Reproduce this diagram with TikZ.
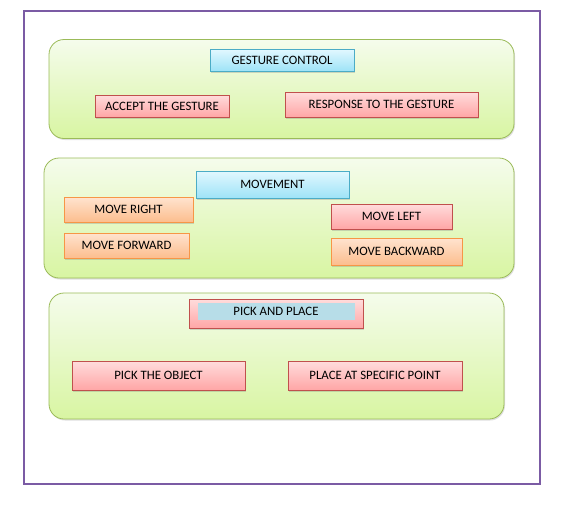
\documentclass[tikz,border=0pt]{standalone}
\usepackage{fontspec}
\setmainfont{Carlito}
\usetikzlibrary{shadows}
\definecolor{frame}{HTML}{7B5BA4}
\definecolor{grpline}{HTML}{9BBB59}
\definecolor{grptop}{HTML}{F5FCEC}
\definecolor{grpbot}{HTML}{D8F5A2}
\definecolor{redline}{HTML}{C0504D}
\definecolor{redtop}{HTML}{FFDCDC}
\definecolor{redbot}{HTML}{FFA6A6}
\definecolor{orline}{HTML}{F79646}
\definecolor{ortop}{HTML}{FFE3CF}
\definecolor{orbot}{HTML}{FCBE8E}
\definecolor{cyline}{HTML}{4BACC6}
\definecolor{cytop}{HTML}{E2F8FF}
\definecolor{cybot}{HTML}{9EE3F7}
\definecolor{innerblue}{HTML}{B7DDE8}
\tikzset{
  grp/.style={draw=grpline, line width=0.8pt, rounded corners=15pt, top color=grptop, bottom color=grpbot,
    drop shadow={shadow xshift=1pt, shadow yshift=-1.5pt, opacity=0.25}},
  basebox/.style={line width=0.8pt, font=\fontsize{12.8}{14}\selectfont, inner sep=0pt, align=center,
    drop shadow={shadow xshift=1.2pt, shadow yshift=-1.5pt, opacity=0.3}},
  redbox/.style={basebox, draw=redline, top color=redtop, bottom color=redbot},
  orbox/.style={basebox, draw=orline, top color=ortop, bottom color=orbot},
  cybox/.style={basebox, draw=cyline, top color=cytop, bottom color=cybot},
}
\begin{document}
\begin{tikzpicture}[x=1pt,y=-1pt]
\useasboundingbox[fill=white] (0,0) rectangle (569,509);
\node[draw=frame, line width=1.2pt, minimum width=516, minimum height=473, inner sep=0pt] (frame) at (282,247.5) {};
% group 1
\node[grp, minimum width=465, minimum height=99, inner sep=0pt] (g1) at (281.5,89) {};
\node[cybox, minimum width=144, minimum height=22] (gc) at (282,60) {GESTURE CONTROL};
\node[redbox, minimum width=134, minimum height=22] (accept) at (162,106) {ACCEPT THE GESTURE};
\node[redbox, minimum width=193, minimum height=25] (resp) at (381.5,104.5) {RESPONSE TO THE GESTURE};
% group 2
\node[grp, minimum width=470, minimum height=120, inner sep=0pt] (g2) at (279,218) {};
\node[cybox, minimum width=153, minimum height=27] (mov) at (272.5,184.5) {MOVEMENT};
\node[orbox, minimum width=129, minimum height=25] (mr) at (128.5,209.5) {MOVE RIGHT};
\node[orbox, minimum width=125, minimum height=25] (mf) at (126.5,245.5) {MOVE FORWARD};
\node[redbox, minimum width=121, minimum height=25] (ml) at (391.5,216.5) {MOVE LEFT};
\node[orbox, minimum width=131, minimum height=27] (mb) at (396.5,251.5) {MOVE BACKWARD};
% group 3
\node[grp, minimum width=455, minimum height=126, inner sep=0pt] (g3) at (276.5,356) {};
\node[redbox, minimum width=174, minimum height=29] (pp) at (276,313.5) {};
\node[fill=innerblue, minimum width=157, minimum height=17, inner sep=0pt, font=\fontsize{12.8}{14}\selectfont] (ppin) at (276,311.5) {PICK AND PLACE};
\node[redbox, minimum width=173, minimum height=29] (po) at (158.5,375.5) {PICK THE OBJECT};
\node[redbox, minimum width=174, minimum height=29] (pl) at (375,375.5) {PLACE AT SPECIFIC POINT};
\end{tikzpicture}
\end{document}
